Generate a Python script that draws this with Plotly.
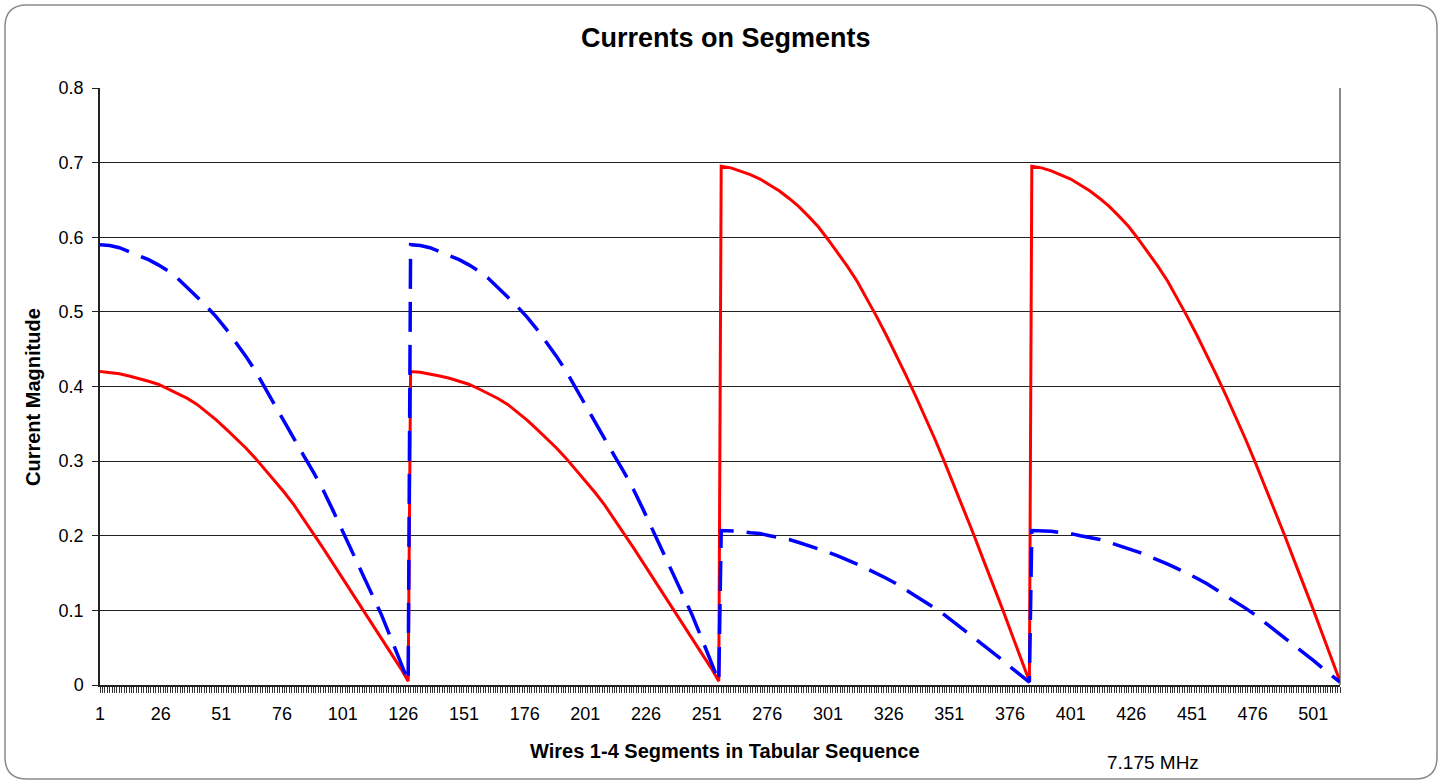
import plotly.graph_objects as go

# ---------------- data ----------------
segments_per_wire = 128
wire_count = 4
# segment positions (within a wire) at which values were read
seg_in_wire = [1, 5, 9, 13, 17, 21, 25, 29, 33, 37, 41, 45, 49, 53, 57, 61, 65,
               69, 73, 77, 81, 85, 89, 93, 97, 101, 105, 109, 113, 117, 121, 125, 128]

# red solid series, wires 1 and 2 (identical shapes)
red_w12 = [0.420, 0.419, 0.417, 0.414, 0.411, 0.407, 0.403, 0.397, 0.391, 0.384,
           0.376, 0.366, 0.355, 0.343, 0.331, 0.318, 0.304, 0.289, 0.274, 0.258,
           0.241, 0.222, 0.203, 0.183, 0.163, 0.143, 0.122, 0.102, 0.083, 0.063,
           0.043, 0.022, 0.005]
# red solid series, wires 3 and 4
red_w34 = [0.695, 0.693, 0.689, 0.684, 0.678, 0.670, 0.662, 0.652, 0.641, 0.628,
           0.614, 0.597, 0.579, 0.561, 0.541, 0.518, 0.494, 0.469, 0.443, 0.416,
           0.388, 0.360, 0.330, 0.299, 0.267, 0.235, 0.202, 0.168, 0.135, 0.101,
           0.066, 0.031, 0.005]
# blue dashed series, wires 1 and 2
blue_w12 = [0.590, 0.589, 0.586, 0.581, 0.576, 0.570, 0.563, 0.555, 0.545, 0.533,
            0.520, 0.507, 0.493, 0.477, 0.459, 0.441, 0.421, 0.398, 0.374, 0.351,
            0.329, 0.307, 0.285, 0.261, 0.234, 0.206, 0.178, 0.150, 0.123, 0.094,
            0.062, 0.029, 0.005]
# blue dashed series, wires 3 and 4
blue_w34 = [0.207, 0.207, 0.206, 0.204, 0.203, 0.200, 0.198, 0.195, 0.191, 0.187,
            0.183, 0.178, 0.173, 0.168, 0.162, 0.156, 0.150, 0.143, 0.136, 0.128,
            0.120, 0.112, 0.103, 0.094, 0.084, 0.074, 0.064, 0.054, 0.044, 0.033,
            0.022, 0.011, 0.004]

red_by_wire = [red_w12, red_w12, red_w34, red_w34]
blue_by_wire = [blue_w12, blue_w12, blue_w34, blue_w34]

x_tick_vals = [1, 26, 51, 76, 101, 126, 151, 176, 201, 226, 251, 276, 301, 326,
               351, 376, 401, 426, 451, 476, 501]
y_tick_vals = [0, 0.1, 0.2, 0.3, 0.4, 0.5, 0.6, 0.7, 0.8]
y_tick_text = ["0", "0.1", "0.2", "0.3", "0.4", "0.5", "0.6", "0.7", "0.8"]

title_text = "Currents on Segments"
x_title = "Wires 1-4 Segments in Tabular Sequence"
y_title = "Current Magnitude"
freq_text = "7.175 MHz"

# ---------------- build series ----------------
xs, red_y, blue_y = [], [], []
for w in range(wire_count):
    for s, r, b in zip(seg_in_wire, red_by_wire[w], blue_by_wire[w]):
        xs.append(w * segments_per_wire + s)
        red_y.append(r)
        blue_y.append(b)
n_total = wire_count * segments_per_wire

# ---------------- layout geometry ----------------
W, H = 1442, 784
ML, MR, MT, MB = 100, 102, 88, 99
PW, PH = W - ML - MR, H - MT - MB


def px(xp):
    return (xp - ML) / PW


def py(yp):
    return (H - MB - yp) / PH


FONT = "Liberation Sans, Arial, sans-serif"

fig = go.Figure()
fig.add_trace(go.Scatter(x=xs, y=red_y, mode="lines",
                         line=dict(color="#FF0000", width=3), name="red",
                         showlegend=False))
fig.add_trace(go.Scatter(x=xs, y=blue_y, mode="lines",
                         line=dict(color="#0000FF", width=3.5, dash="30px,13px"),
                         name="blue", showlegend=False))

# rounded outer border
x0, x1, y0, y1, r = 5, 1437, 5, 779, 22
path = (f"M {px(x0 + r)},{py(y0)} L {px(x1 - r)},{py(y0)} "
        f"Q {px(x1)},{py(y0)} {px(x1)},{py(y0 + r)} "
        f"L {px(x1)},{py(y1 - r)} Q {px(x1)},{py(y1)} {px(x1 - r)},{py(y1)} "
        f"L {px(x0 + r)},{py(y1)} Q {px(x0)},{py(y1)} {px(x0)},{py(y1 - r)} "
        f"L {px(x0)},{py(y0 + r)} Q {px(x0)},{py(y0)} {px(x0 + r)},{py(y0)} Z")

shapes = [
    dict(type="path", path=path, xref="paper", yref="paper",
         line=dict(color="#8a8a8a", width=1.5), layer="below"),
    dict(type="line", xref="paper", yref="paper", x0=1, x1=1, y0=0, y1=1,
         line=dict(color="#8a8a8a", width=2), layer="below"),
]

annotations = [
    dict(text=f"<b>{title_text}</b>", x=px(726), y=py(38), xref="paper", yref="paper",
         showarrow=False, xanchor="center", yanchor="middle",
         font=dict(family=FONT, size=27, color="#000")),
    dict(text=f"<b>{y_title}</b>", x=px(33), y=py(397), xref="paper", yref="paper",
         showarrow=False, xanchor="center", yanchor="middle", textangle=-90,
         font=dict(family=FONT, size=20, color="#000")),
    dict(text=f"<b>{x_title}</b>", x=px(725), y=py(751), xref="paper", yref="paper",
         showarrow=False, xanchor="center", yanchor="middle",
         font=dict(family=FONT, size=20, color="#000")),
    dict(text=freq_text, x=px(1153), y=py(763), xref="paper", yref="paper",
         showarrow=False, xanchor="center", yanchor="middle",
         font=dict(family=FONT, size=19, color="#000")),
]

fig.update_layout(
    width=W, height=H,
    margin=dict(l=ML, r=MR, t=MT, b=MB, pad=0),
    paper_bgcolor="white", plot_bgcolor="white",
    shapes=shapes, annotations=annotations,
    font=dict(family=FONT, size=18, color="#000"),
    xaxis=dict(range=[1, n_total], tickmode="array", tickvals=x_tick_vals,
               ticks="outside", ticklen=6, tickwidth=1, tickcolor="#333",
               showgrid=False, zeroline=False, showline=True,
               linecolor="#222", linewidth=2, ticklabelstandoff=5,
               tickfont=dict(family=FONT, size=18, color="#000"),
               minor=dict(dtick=1, tick0=1, ticks="outside", ticklen=6,
                          tickwidth=1, tickcolor="#333", showgrid=False)),
    yaxis=dict(range=[0, 0.8], tickmode="array", tickvals=y_tick_vals,
               ticktext=y_tick_text, ticks="outside", ticklen=6, tickwidth=1,
               tickcolor="#222", showgrid=True, gridcolor="#222", gridwidth=1,
               zeroline=False, showline=True, linecolor="#222", linewidth=1.5,
               ticklabelstandoff=5,
               tickfont=dict(family=FONT, size=18, color="#000")),
)

fig.write_html("out.html")
